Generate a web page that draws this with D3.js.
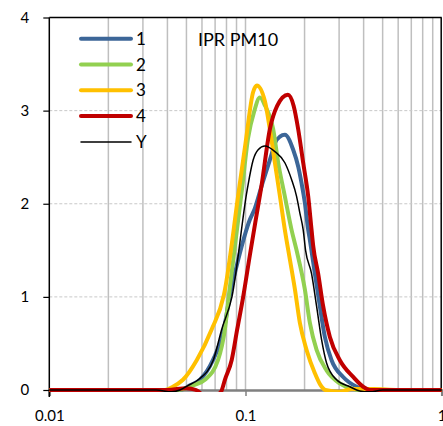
<!DOCTYPE html>
<html>
<head>
<meta charset="utf-8">
<script src="https://cdn.jsdelivr.net/npm/d3@7/dist/d3.min.js"></script>
<style>
  body { margin: 0; background: #fff; }
  svg text { font-family: Lato, "Open Sans", sans-serif; fill: #000; }
</style>
</head>
<body>
<div id="chart"></div>
<script>
// diameters (log axis) and values, one pair of arrays per series
const x1 = [0.01, 0.04, 0.0463, 0.0521, 0.0586, 0.0682, 0.0776, 0.0833, 0.0901, 0.1053, 0.1116, 0.1208, 0.1358, 0.1412, 0.1498, 0.1587, 0.175, 0.1856, 0.1931, 0.2007, 0.2087, 0.2129, 0.2257, 0.2393, 0.2538, 0.2746, 0.3146, 0.3681, 0.4057, 0.45, 0.55, 1];
const y1 = [0, 0, 0, 0.05, 0.11, 0.32, 0.65, 1.02, 1.33, 1.83, 1.95, 2.19, 2.53, 2.65, 2.72, 2.74, 2.58, 2.40, 2.22, 2.01, 1.72, 1.61, 1.25, 0.9, 0.57, 0.32, 0.14, 0.035, 0, -0.02, 0, 0];

const x2 = [0.01, 0.04, 0.045, 0.05, 0.054, 0.0621, 0.0724, 0.0785, 0.0823, 0.0959, 0.103, 0.111, 0.1184, 0.126, 0.1384, 0.1468, 0.1587, 0.1717, 0.1821, 0.2007, 0.2129, 0.2303, 0.2589, 0.3026, 0.3538, 0.38, 0.45, 1];
const y2 = [0, 0, 0, 0.02, 0.05, 0.11, 0.32, 0.65, 1.02, 2.15, 2.7, 3.0, 3.14, 3.05, 2.8, 2.44, 2.08, 1.72, 1.5, 1.08, 0.72, 0.43, 0.21, 0.07, 0.01, 0, 0, 0];

const x3 = [0.01, 0.035, 0.0389, 0.0422, 0.048, 0.0564, 0.0672, 0.0776, 0.0926, 0.1, 0.1094, 0.1143, 0.1256, 0.1331, 0.1412, 0.1498, 0.1587, 0.1684, 0.1786, 0.1893, 0.2048, 0.2257, 0.24, 0.255, 0.3, 0.35, 0.45, 0.6, 1];
const y3 = [0, 0, 0, 0.03, 0.11, 0.32, 0.65, 1.02, 2.15, 2.65, 3.2, 3.27, 3.1, 2.8, 2.44, 2.08, 1.72, 1.4, 1.08, 0.72, 0.43, 0.18, 0.06, 0, -0.02, 0.01, 0.01, 0, 0];

const x4 = [0.01, 0.04, 0.05, 0.056, 0.065, 0.075, 0.0785, 0.085, 0.0907, 0.0973, 0.1053, 0.1122, 0.1208, 0.1331, 0.145, 0.1644, 0.176, 0.1856, 0.1968, 0.2087, 0.2171, 0.2213, 0.2346, 0.2488, 0.2692, 0.3026, 0.3538, 0.3977, 0.4303, 0.5, 1];
const y4 = [0, 0, 0.02, 0, -0.1, -0.02, 0.11, 0.32, 0.65, 1.0, 1.45, 1.8, 2.2, 2.8, 3.05, 3.17, 3.05, 2.8, 2.44, 2.08, 1.72, 1.55, 1.25, 0.9, 0.57, 0.32, 0.14, 0.035, 0, 0, 0];

const xY = [0.01, 0.035, 0.042, 0.0463, 0.0511, 0.0574, 0.0685, 0.0756, 0.0853, 0.102, 0.1094, 0.116, 0.1256, 0.1412, 0.1587, 0.1717, 0.1821, 0.1893, 0.1968, 0.2024, 0.2171, 0.2303, 0.2442, 0.2589, 0.2912, 0.3403, 0.3826, 0.43, 0.5, 1];
const yY = [0, 0, -0.02, 0, 0.05, 0.11, 0.32, 0.65, 1.0, 2.15, 2.47, 2.58, 2.62, 2.56, 2.44, 2.26, 2.08, 1.9, 1.72, 1.5, 1.25, 0.9, 0.54, 0.29, 0.11, 0.035, -0.01, -0.02, 0, 0];

const seriesNames = ["1", "2", "3", "4", "Y"];
const seriesColors = ["#3C6698", "#92D050", "#FFC000", "#C00000", "#000000"];
const seriesWidths = [4, 4, 4, 4, 1.5];
const xs = [x1, x2, x3, x4, xY];
const ys = [y1, y2, y3, y4, yY];

const yTicks = [0, 1, 2, 3, 4];
const xTicks = [0.01, 0.1, 1];
const xTickLabels = ["0.01", "0.1", "1"];
const chartTitle = "IPR PM10";

const W = 443, H = 426;
const margin = { top: 17.5, right: 1.3, bottom: 36, left: 49.3 };

const svg = d3.select("#chart").append("svg")
    .attr("width", W)
    .attr("height", H);

const x = d3.scaleLog()
    .domain([0.01, 1])
    .range([margin.left, W - margin.right]);

const y = d3.scaleLinear()
    .domain([0, 4])
    .range([H - margin.bottom, margin.top]);

// vertical grid at every log minor step
const minor = [];
for (let d = 0.01; d < 1; d *= 10) {
    for (let k = 2; k <= 10; k++) minor.push(+(d * k).toFixed(4));
}
svg.append("g").selectAll("line")
    .data(minor.filter(v => v < 1))
    .enter().append("line")
    .attr("x1", d => x(d)).attr("x2", d => x(d))
    .attr("y1", y(4)).attr("y2", y(0))
    .attr("stroke", "#BFBFBF")
    .attr("stroke-width", 1.5);

// horizontal dashed grid
svg.append("g").selectAll("line")
    .data([1, 2, 3])
    .enter().append("line")
    .attr("x1", x(0.01)).attr("x2", x(1))
    .attr("y1", d => y(d)).attr("y2", d => y(d))
    .attr("stroke", "#C8C8C8")
    .attr("stroke-width", 1)
    .attr("stroke-dasharray", "3,2");

// x axis (gray, at 0)
const xAxis = svg.append("g")
    .attr("transform", `translate(0,${y(0)})`)
    .call(d3.axisBottom(x).tickValues(xTicks).tickSize(6).tickFormat((d, i) => xTickLabels[i]));
xAxis.select(".domain").attr("stroke", "#808080").attr("stroke-width", 2.5);
xAxis.selectAll(".tick line").attr("stroke", "#808080").attr("stroke-width", 1.5);
xAxis.selectAll(".tick text")
    .attr("y", 20)
    .style("font-size", "15px")
    .style("font-family", "Lato, sans-serif")
    .attr("fill", "#000");

// frame: top and right
svg.append("line")
    .attr("x1", x(0.01)).attr("x2", x(1))
    .attr("y1", y(4)).attr("y2", y(4))
    .attr("stroke", "#000").attr("stroke-width", 1.5);
svg.append("line")
    .attr("x1", x(1) - 0.5).attr("x2", x(1) - 0.5)
    .attr("y1", y(4)).attr("y2", y(0))
    .attr("stroke", "#000").attr("stroke-width", 1.5);

// y axis
const yAxis = svg.append("g")
    .attr("transform", `translate(${x(0.01)},0)`)
    .call(d3.axisLeft(y).tickValues(yTicks).tickSize(6).tickFormat(d3.format("d")));
yAxis.select(".domain").attr("stroke", "#000").attr("stroke-width", 1.5)
    .attr("d", `M0,${y(4)}V${y(0) + 7}`);
yAxis.selectAll(".tick line").attr("stroke", "#000").attr("stroke-width", 1.2);
yAxis.selectAll(".tick text")
    .attr("x", -20)
    .style("font-size", "15px")
    .style("font-family", "Lato, sans-serif")
    .attr("fill", "#000");

// curves, clipped to the plot area
svg.append("clipPath").attr("id", "plot")
    .append("rect")
    .attr("x", x(0.01)).attr("y", y(4))
    .attr("width", x(1) - x(0.01)).attr("height", y(0) - y(4) + 2);

const line = d3.line()
    .x(d => x(d[0]))
    .y(d => y(d[1]))
    .curve(d3.curveMonotoneX);

const curves = svg.append("g").attr("clip-path", "url(#plot)");
seriesNames.forEach((name, i) => {
    curves.append("path")
        .datum(xs[i].map((v, j) => [v, ys[i][j]]))
        .attr("fill", "none")
        .attr("stroke", seriesColors[i])
        .attr("stroke-width", seriesWidths[i])
        .attr("stroke-linejoin", "round")
        .attr("stroke-linecap", "round")
        .attr("d", line);
});

// legend
const legend = svg.append("g");
seriesNames.forEach((name, i) => {
    const ly = 38.7 + i * 25.8;
    legend.append("line")
        .attr("x1", 81).attr("x2", 131)
        .attr("y1", ly).attr("y2", ly)
        .attr("stroke", seriesColors[i])
        .attr("stroke-width", seriesWidths[i])
        .attr("stroke-linecap", "round");
    legend.append("text")
        .attr("x", 136)
        .attr("y", ly + 6)
        .style("font-size", "17px")
        .text(name);
});

svg.append("text")
    .attr("x", 198)
    .attr("y", 46)
    .style("font-size", "18px")
    .text(chartTitle);
</script>
</body>
</html>
